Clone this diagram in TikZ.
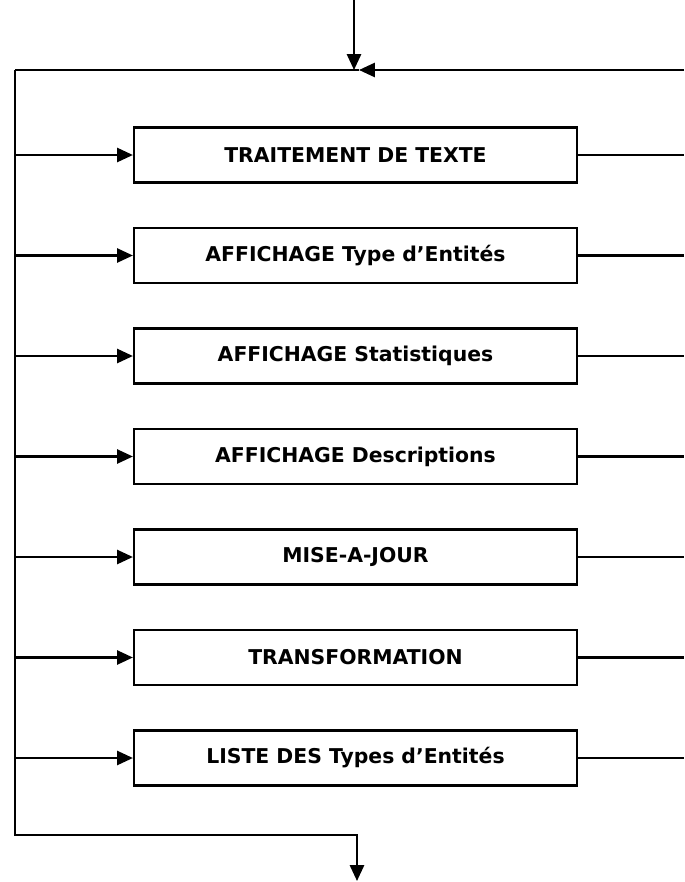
\documentclass[tikz,border=0pt]{standalone}
\usepackage{fontspec}
\setmainfont{DejaVu Sans}
\usetikzlibrary{arrows.meta}
\begin{document}
\begin{tikzpicture}[x=0.02cm, y=-0.02cm, line width=1.3pt,
    box/.style={draw, minimum width=8.86cm, minimum height=1.1cm, inner sep=0pt,
        font=\bfseries\fontsize{11.6}{13}\selectfont},
    tip/.style={-{Triangle[length=9pt, width=8pt]}}]
    \useasboundingbox (0,0) rectangle (684,882);

    % bus du haut et du bas
    \coordinate (in) at (354,0);
    \coordinate (top) at (354,70);
    \coordinate (jr) at (359,70);
    \coordinate (tl) at (15,70);
    \coordinate (tr) at (684,70);
    \coordinate (bl) at (15,835);
    \coordinate (bm) at (357,835);
    \coordinate (out) at (357,881);
    \draw[tip] (in) -- (top);
    \draw (tl) -- (jr);
    \draw[tip] (tr) -- (jr);
    \draw[tip] (tl) -- (bl) -- (bm) -- (out);

    % modules
    \foreach \t [count=\i] in {TRAITEMENT DE TEXTE, AFFICHAGE Type d'Entités,
        AFFICHAGE Statistiques, AFFICHAGE Descriptions, MISE-A-JOUR,
        TRANSFORMATION, LISTE DES Types d'Entités} {
        \node[box] (b\i) at (355.5, 54.5+100.5*\i) {\t};
        \coordinate (l\i) at (15, 54.5+100.5*\i);
        \coordinate (r\i) at (684, 54.5+100.5*\i);
        \draw[tip] (l\i) -- (b\i.west);
        \draw (b\i.east) -- (r\i);
    }
\end{tikzpicture}
\end{document}
